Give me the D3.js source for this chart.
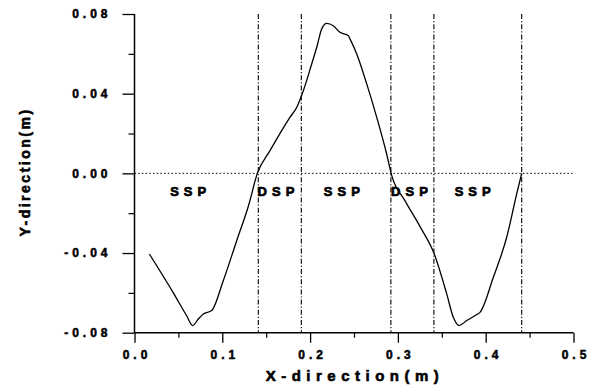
<!DOCTYPE html>
<html>
<head>
<meta charset="utf-8">
<script src="https://cdn.jsdelivr.net/npm/d3@7"></script>
<style>
html,body{margin:0;padding:0;background:#fff;}
svg{display:block;}
text{font-family:"Liberation Sans",Arial,sans-serif;font-weight:bold;fill:#000;}
</style>
</head>
<body>
<svg id="chart" width="604" height="387"></svg>
<script>
// ---- data ----
const trajX = [0.0169,0.0442,0.0594,0.0663,0.0727,0.0784,0.0879,0.1011,0.1164,0.1300,0.1399,0.1543,0.1770,0.1847,0.1923,0.2018,0.2075,0.2132,0.2189,0.2264,0.2340,0.2435,0.2454,0.2531,0.2645,0.2759,0.2872,0.2929,0.3080,0.3257,0.3410,0.3556,0.3631,0.3696,0.3784,0.3898,0.3935,0.4087,0.4239,0.4353,0.4410];
const trajY = [-0.0405,-0.0600,-0.0715,-0.0764,-0.0731,-0.0706,-0.0689,-0.0539,-0.0338,-0.0160,0.0000,0.0114,0.0281,0.0331,0.0415,0.0549,0.0632,0.0725,0.0753,0.0741,0.0708,0.0691,0.0675,0.0599,0.0449,0.0281,0.0097,-0.0010,-0.0137,-0.0271,-0.0400,-0.0605,-0.0723,-0.0764,-0.0739,-0.0709,-0.0698,-0.0522,-0.0321,-0.0103,0.0000];
const phaseBounds = [0.141,0.190,0.292,0.341,0.441];
const phaseLabels = ["SSP","DSP","SSP","DSP","SSP"];
const phaseLabelX = [0.064,0.164,0.239,0.316,0.388];
const phaseLabelY = -0.0115;
const xTicks = [0.0,0.1,0.2,0.3,0.4,0.5];
const xTickLabels = ["0.0","0.1","0.2","0.3","0.4","0.5"];
const xMinorTicks = [0.05,0.15,0.25,0.35,0.45];
const yTicks = [0.08,0.04,0.00,-0.04,-0.08];
const yTickLabels = ["0.08","0.04","0.00","-0.04","-0.08"];
const yMinorTicks = [0.06,0.02,-0.02,-0.06];
const xTitle = "X-direction(m)";
const yTitle = "Y-direction(m)";

// ---- layout ----
const svg = d3.select("#chart");
const x = d3.scaleLinear().domain([0,0.5]).range([134.5,573.5]);
const y = d3.scaleLinear().domain([-0.08,0.08]).range([332.7,14]);

// zero reference line (dotted)
svg.append("line")
  .attr("x1", x(0)).attr("x2", x(0.5))
  .attr("y1", y(0)).attr("y2", y(0))
  .attr("stroke","#000").attr("stroke-width",1)
  .attr("stroke-dasharray","1.5,2.2");

// phase boundaries (dash-dot)
svg.selectAll("line.phase").data(phaseBounds).enter().append("line")
  .attr("class","phase")
  .attr("x1", d=>x(d)).attr("x2", d=>x(d))
  .attr("y1", y(0.08)).attr("y2", y(-0.08))
  .attr("stroke","#000").attr("stroke-width",1.1)
  .attr("stroke-dasharray","5,2,1.2,2");

// axes
const xAxis = d3.axisBottom(x).tickValues(xTicks).tickFormat((d,i)=>xTickLabels[i]).tickSize(10).tickPadding(8);
const gx = svg.append("g").attr("transform",`translate(0,${y(-0.08)})`).call(xAxis);
gx.selectAll(".tick line").attr("stroke","#000").attr("stroke-width",1.3);
gx.select(".domain").attr("stroke","#000").attr("stroke-width",1.5).attr("d",`M${x(0)},0H${x(0.5)}`);
gx.selectAll("text").attr("font-size",12).attr("font-family","Liberation Sans, Arial, sans-serif")
  .attr("font-weight","bold").attr("stroke","#000").attr("stroke-width",0.5)
  .style("letter-spacing","4px").attr("dx","2px");
const gxm = svg.append("g").attr("transform",`translate(0,${y(-0.08)})`).call(d3.axisBottom(x).tickValues(xMinorTicks).tickSize(5).tickFormat(""));
gxm.select(".domain").remove();
gxm.selectAll(".tick line").attr("stroke","#000").attr("stroke-width",1.2);

const yAxis = d3.axisLeft(y).tickValues(yTicks).tickFormat((d,i)=>yTickLabels[i]).tickSize(12).tickPadding(11);
const gy = svg.append("g").attr("transform",`translate(${x(0)},0)`).call(yAxis);
gy.selectAll(".tick line").attr("stroke","#000").attr("stroke-width",1.3);
gy.select(".domain").attr("stroke","#000").attr("stroke-width",1.5).attr("d",`M0,${y(0.08)}V${y(-0.08)}`);
gy.selectAll("text").attr("font-size",12).attr("font-family","Liberation Sans, Arial, sans-serif")
  .attr("font-weight","bold").attr("stroke","#000").attr("stroke-width",0.5)
  .style("letter-spacing","4px");
const gym = svg.append("g").attr("transform",`translate(${x(0)},0)`).call(d3.axisLeft(y).tickValues(yMinorTicks).tickSize(6).tickFormat(""));
gym.select(".domain").remove();
gym.selectAll(".tick line").attr("stroke","#000").attr("stroke-width",1.2);

// trajectory
const pts = trajX.map((v,i)=>[v,trajY[i]]);
svg.append("path").datum(pts)
  .attr("fill","none").attr("stroke","#000").attr("stroke-width",1.3)
  .attr("d", d3.line().x(d=>x(d[0])).y(d=>y(d[1])).curve(d3.curveMonotoneX));

// phase labels
svg.selectAll("text.phase").data(phaseLabels).enter().append("text")
  .attr("class","phase")
  .attr("x",(d,i)=>x(phaseLabelX[i])).attr("y", y(phaseLabelY))
  .attr("text-anchor","middle").attr("font-size",13)
  .attr("stroke","#000").attr("stroke-width",0.7)
  .style("letter-spacing","5px")
  .text(d=>d);

// axis titles
svg.append("text").attr("x", 355).attr("y", 381)
  .attr("text-anchor","middle").attr("font-size",15)
  .attr("stroke","#000").attr("stroke-width",0.6)
  .style("letter-spacing","5.5px").text(xTitle);
svg.append("text").attr("transform","translate(30,172) rotate(-90)")
  .attr("text-anchor","middle").attr("font-size",14)
  .attr("stroke","#000").attr("stroke-width",0.6)
  .style("letter-spacing","2.5px").text(yTitle);
</script>
</body>
</html>
